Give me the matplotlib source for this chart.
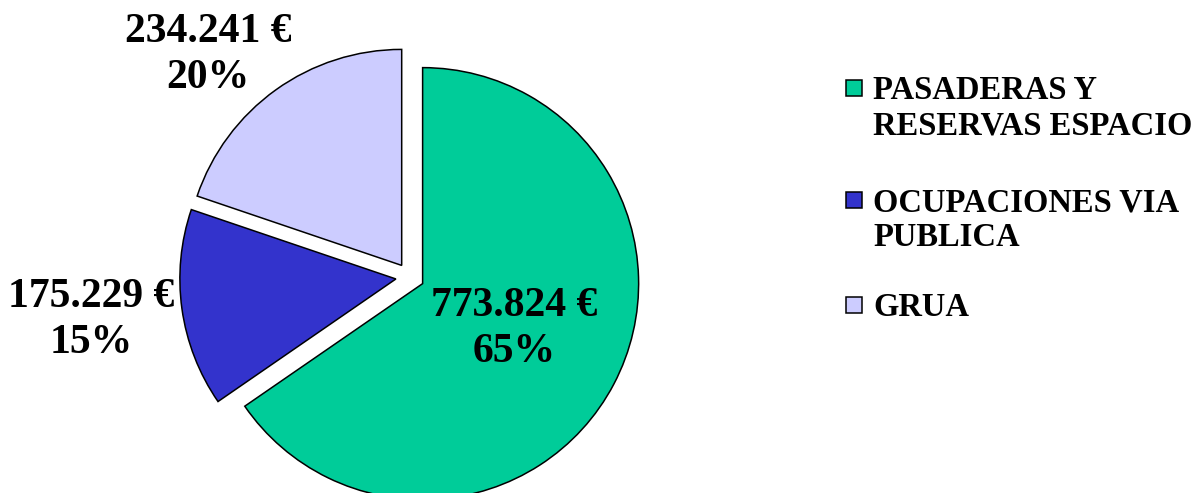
import matplotlib
matplotlib.use("Agg")
import matplotlib.pyplot as plt
from matplotlib.patches import Rectangle

# data
categories = ["PASADERAS Y\nRESERVAS ESPACIO", "OCUPACIONES VIA\nPUBLICA", "GRUA"]
amounts = [773824, 175229, 234241]
amount_labels = ["773.824 €", "175.229 €", "234.241 €"]
colors = ["#00CC99", "#3333CC", "#CCCCFF"]

W, H = 1203, 493
plt.rcParams["font.family"] = ["Liberation Serif", "DejaVu Serif"]
plt.rcParams["font.weight"] = "bold"

fig = plt.figure(figsize=(W / 100, H / 100), dpi=100)
ax = fig.add_axes([0, 0, 1, 1])

cx, cy, r = 410, H - 277, 216
# explode is in data units here, so scale by radius
wedges, _ = ax.pie(amounts, colors=colors, startangle=90, counterclock=False,
                   explode=[0.066 * r] * len(amounts), center=(cx, cy), radius=r,
                   wedgeprops=dict(edgecolor="black", linewidth=1.1))
ax.set_xlim(0, W)
ax.set_ylim(0, H)
ax.set_aspect("equal")
ax.axis("off")

total = sum(amounts)
# label block centres in image pixels (x, y from top)
label_pos = [(514, 329), (91, 320), (208, 55)]
for lab, val, (lx, ly) in zip(amount_labels, amounts, label_pos):
    pct = round(100 * val / total)
    ax.text(lx, H - ly, f"{lab}\n{pct}%", ha="center", va="center",
            fontsize=30, fontweight="bold", linespacing=1.25)

# legend drawn by hand
legend_y = [88, 200, 305]
for cat, col, ly in zip(categories, colors, legend_y):
    ax.add_patch(Rectangle((846, H - ly - 8), 16, 16, facecolor=col,
                           edgecolor="black", linewidth=1.1))
    ax.text(873, H - ly + 13, cat, ha="left", va="top", fontsize=23.5,
            fontweight="bold", linespacing=1.17)

fig.savefig("out.png", dpi=100)
